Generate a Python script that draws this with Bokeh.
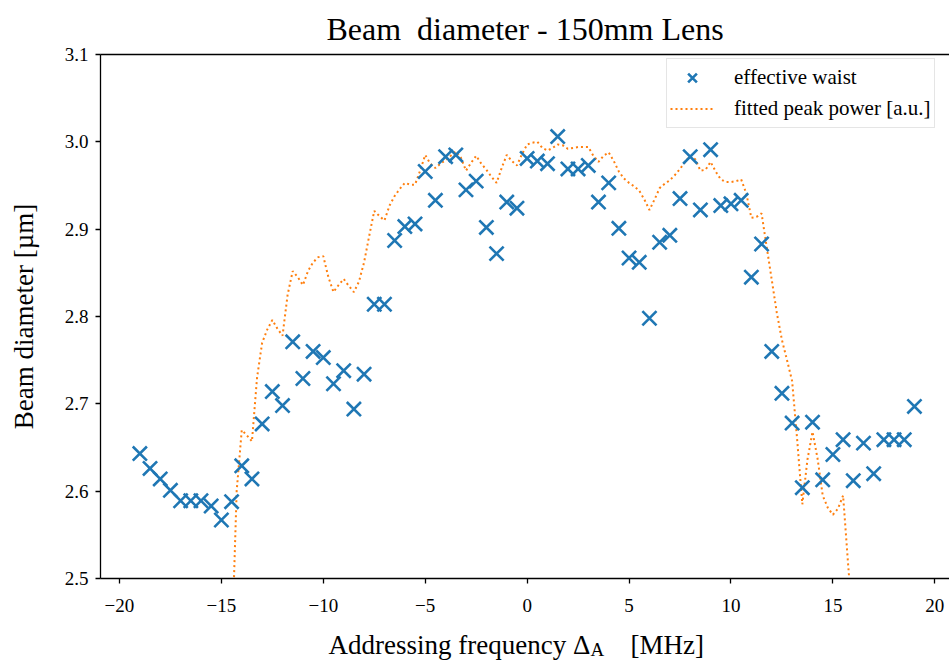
from bokeh.plotting import figure
from bokeh.models import (Range1d, FixedTicker, Legend, LegendItem, LinearAxis)
from bokeh.layouts import column
from bokeh.core.properties import value
from bokeh.embed import file_html
from bokeh.resources import INLINE

# ---- data ----
waist_x = [-19 + 0.5 * i for i in range(77)]
waist_y = [2.643, 2.626, 2.614, 2.601, 2.589, 2.589, 2.589, 2.583, 2.567, 2.588,
           2.629, 2.614, 2.677, 2.714, 2.698, 2.771, 2.729, 2.760, 2.753, 2.723,
           2.738, 2.694, 2.734, 2.814, 2.814, 2.887, 2.903, 2.906, 2.966, 2.933,
           2.983, 2.985, 2.945, 2.955, 2.902, 2.872, 2.931, 2.924, 2.981, 2.978,
           2.975, 3.006, 2.969, 2.969, 2.973, 2.931, 2.953, 2.901, 2.867, 2.862,
           2.798, 2.885, 2.893, 2.935, 2.983, 2.922, 2.991, 2.927, 2.929, 2.933,
           2.845, 2.883, 2.760, 2.712, 2.678, 2.604, 2.679, 2.613, 2.642, 2.659,
           2.612, 2.655, 2.620, 2.659, 2.659, 2.659, 2.697]

power_x = [-14.5 + 0.25 * i for i in range(123)]
power_y = [2.41, 2.60, 2.670, 2.664, 2.657, 2.730, 2.770, 2.785, 2.796, 2.786,
           2.778, 2.825, 2.852, 2.845, 2.836, 2.852, 2.862, 2.868, 2.869, 2.845,
           2.828, 2.836, 2.843, 2.835, 2.828, 2.840, 2.862, 2.892, 2.921, 2.915,
           2.910, 2.927, 2.938, 2.946, 2.953, 2.951, 2.951, 2.967, 2.985, 2.975,
           2.970, 2.975, 2.979, 2.984, 2.989, 2.982, 2.967, 2.976, 2.984, 2.975,
           2.968, 2.960, 2.953, 2.970, 2.985, 2.978, 2.973, 2.986, 2.997, 2.999,
           3.000, 2.993, 2.990, 2.993, 2.997, 2.996, 2.992, 2.993, 2.994, 2.994,
           2.994, 2.984, 2.977, 2.984, 2.988, 2.978, 2.966, 2.958, 2.953, 2.949,
           2.944, 2.934, 2.922, 2.934, 2.947, 2.952, 2.956, 2.962, 2.969, 2.977,
           2.984, 2.980, 2.967, 2.968, 2.977, 2.966, 2.957, 2.954, 2.954, 2.955,
           2.957, 2.941, 2.913, 2.914, 2.918, 2.880, 2.842, 2.804, 2.773, 2.750,
           2.726, 2.658, 2.585, 2.636, 2.668, 2.637, 2.595, 2.581, 2.573, 2.580,
           2.595, 2.515, 2.44]

x_ticks = [-20, -15, -10, -5, 0, 5, 10, 15, 20]
y_ticks = [2.5, 2.6, 2.7, 2.8, 2.9, 3.0, 3.1]

title_text = "Beam\u00a0 diameter - 150mm Lens"
ylabel_text = "Beam diameter [\u00b5m]"
xlabel_parts = ["Addressing frequency \u0394", "A", "[MHz]"]

FONT = "Liberation Serif"
BLUE = "#1f77b4"
ORANGE = "#ff7f0e"

p = figure(width=949, height=622, output_backend="svg", toolbar_location=None,
           x_range=Range1d(-20.93, 20.72), y_range=Range1d(2.5, 3.1))
p.min_border_left = 100
p.min_border_right = 0
p.min_border_top = 53
p.min_border_bottom = 44
p.outline_line_color = None
p.grid.visible = False
p.background_fill_color = "white"
p.border_fill_color = "white"

p.title.text = title_text
p.title.text_font = FONT
p.title.text_font_size = "32px"
p.title.text_font_style = "normal"
p.title.text_color = "black"
p.title.align = "center"
p.title.offset = 0
p.title.standoff = 16

for ax in (p.xaxis[0], p.yaxis[0]):
    ax.axis_line_color = "black"
    ax.axis_line_width = 1.3
    ax.major_tick_line_color = "black"
    ax.major_tick_line_width = 1.3
    ax.major_tick_in = 0
    ax.major_tick_out = 5
    ax.minor_tick_line_color = None
    ax.major_label_text_font = FONT
    ax.major_label_text_font_size = "19px"
    ax.major_label_text_color = "black"

p.xaxis[0].ticker = FixedTicker(ticks=x_ticks)
p.xaxis[0].major_label_overrides = {t: (str(t).replace("-", "\u2212")) for t in x_ticks}
p.xaxis[0].major_label_standoff = 15

p.yaxis[0].ticker = FixedTicker(ticks=y_ticks)
p.yaxis[0].major_label_overrides = {t: f"{t:.1f}" for t in y_ticks}
p.yaxis[0].major_label_standoff = 7
p.yaxis[0].axis_label = ylabel_text
p.yaxis[0].axis_label_text_font = FONT
p.yaxis[0].axis_label_text_font_size = "27px"
p.yaxis[0].axis_label_text_font_style = "normal"
p.yaxis[0].axis_label_text_color = "black"
p.yaxis[0].axis_label_standoff = 23

top_axis = LinearAxis(ticker=FixedTicker(ticks=[]), major_label_text_font_size="0px",
                      axis_line_color="black", axis_line_width=1.3,
                      major_tick_line_color=None, minor_tick_line_color=None)
p.add_layout(top_axis, "above")

r_line = p.line(power_x, power_y, line_color=ORANGE, line_width=2, line_dash="2 3")
r_sc = p.scatter(waist_x, waist_y, marker="x", size=20, line_color=BLUE, line_width=2.6)

legend = Legend(items=[LegendItem(label="effective waist", renderers=[r_sc]),
                       LegendItem(label="fitted peak power [a.u.]", renderers=[r_line])],
                location=(566, 450))
legend.label_text_font = FONT
legend.label_text_font_size = "21px"
legend.label_text_color = "black"
legend.border_line_color = "#cccccc"
legend.border_line_width = 1.5
legend.margin = 0
legend.padding = 3
legend.spacing = 0
legend.glyph_width = 44
legend.glyph_height = 31
legend.label_standoff = 20
legend.background_fill_alpha = 1
p.add_layout(legend)

# x-axis label strip (label with its subscript as real text); its frame is
# aligned with the main frame (canvas x 100..949), so use canvas pixels
q = figure(width=949, height=38, output_backend="svg", toolbar_location=None,
           x_range=Range1d(100, 949), y_range=Range1d(38, 0),
           x_axis_location=None, y_axis_location=None,
           min_border_left=100, min_border_right=0, min_border_top=0, min_border_bottom=0)
q.grid.visible = False
q.outline_line_color = None
q.background_fill_color = "white"
q.border_fill_color = "white"
q.text(x=[328], y=[22], text=[xlabel_parts[0]], text_font=value(FONT),
       text_font_size="27px", text_color="black", text_baseline="alphabetic")
q.text(x=[590], y=[27], text=[xlabel_parts[1]], text_font=value(FONT),
       text_font_size="19px", text_color="black", text_baseline="alphabetic")
q.text(x=[630], y=[22], text=[xlabel_parts[2]], text_font=value(FONT),
       text_font_size="27px", text_color="black", text_baseline="alphabetic")

layout = column(p, q, spacing=0)
open("out.html", "w").write(file_html(layout, INLINE))
